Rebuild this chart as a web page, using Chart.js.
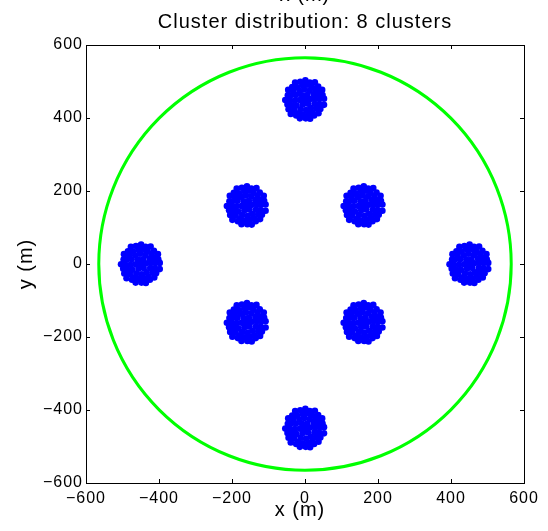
<!DOCTYPE html>
<html>
<head>
<meta charset="utf-8">
<script src="https://cdn.jsdelivr.net/npm/chart.js@4"></script>
<style>
   body { margin: 0; background: #fff; }
</style>
</head>
<body>
<canvas id="canvas" width="548" height="531"></canvas>
<script>
// cluster centres (m)
var clusterX = [0, 160, 450, 160, 0, -160, -450, -160];
var clusterY = [450, 160, 0, -160, -450, -160, 0, 160];

// node offsets inside one cluster (m)
var spreadX = [0, 14, 6, -8, -14, -6, 8,
   28, 24, 13, -2, -15, -25, -28, -23, -12, 3, 16, 26,
   40, 37, 30, 19, 8, -6, -21, -32, -39, -42, -37, -30, -18, -6, 9, 21, 32, 39,
   52, 48, 47, 36, 27, 13, 1, -13, -27, -35, -46, -47, -54, -48, -45, -39, -24, -14, 2, 14, 25, 37, 42, 52];
var spreadY = [0, 2, 13, 12, -1, -13, -11,
   3, 15, 25, 28, 24, 13, -2, -16, -26, -28, -23, -11,
   3, 16, 27, 35, 41, 39, 34, 25, 12, -2, -15, -28, -37, -41, -39, -35, -24, -12,
   3, 13, 27, 36, 48, 47, 53, 49, 47, 35, 27, 12, -1, -13, -26, -39, -43, -51, -51, -52, -43, -37, -25, -14];

// coverage ring
var ringX = 0;
var ringY = 0;
var ringRadius = 565;

// axes
var axisMin = -600;
var axisMax = 600;
var tickStep = 200;

var titleText = 'Cluster distribution: 8 clusters';
var xTitle = 'x (m)';
var yTitle = 'y (m)';

var FONT = '"Liberation Sans", Arial, Helvetica, sans-serif';

var nodes = [];
clusterX.forEach(function (cx, c) {
   spreadX.forEach(function (dx, i) {
      nodes.push({ x: cx + dx, y: clusterY[c] + spreadY[i] });
   });
});

// green coverage circle, placed through the axis scales
var ringPlugin = {
   id: 'ring',
   beforeDatasetsDraw: function (chart) {
      var ctx = chart.ctx;
      var xs = chart.scales.x, ys = chart.scales.y;
      var cx = xs.getPixelForValue(ringX);
      var cy = ys.getPixelForValue(ringY);
      var r = xs.getPixelForValue(ringX + ringRadius) - cx;
      ctx.save();
      ctx.strokeStyle = '#00ff00';
      ctx.lineWidth = 3;
      ctx.beginPath();
      ctx.arc(cx, cy, r, 0, Math.PI * 2);
      ctx.stroke();
      ctx.restore();
   }
};

// box with inward tick marks on all four sides, plus the text
var frame = {
   id: 'frame',
   beforeDraw: function (chart) {
      chart.ctx.letterSpacing = '1px';
   },
   afterDraw: function (chart) {
      var ctx = chart.ctx;
      var a = chart.chartArea;
      var xs = chart.scales.x, ys = chart.scales.y;
      var len = 4;
      ctx.save();
      ctx.strokeStyle = '#000';
      ctx.lineWidth = 1;
      ctx.strokeRect(a.left + 0.5, a.top + 0.5, a.right - a.left, a.bottom - a.top);
      ctx.beginPath();
      xs.ticks.forEach(function (t) {
         var px = Math.round(xs.getPixelForValue(t.value)) + 0.5;
         ctx.moveTo(px, a.bottom); ctx.lineTo(px, a.bottom - len);
         ctx.moveTo(px, a.top); ctx.lineTo(px, a.top + len);
      });
      ys.ticks.forEach(function (t) {
         var py = Math.round(ys.getPixelForValue(t.value)) + 0.5;
         ctx.moveTo(a.left, py); ctx.lineTo(a.left + len, py);
         ctx.moveTo(a.right, py); ctx.lineTo(a.right - len, py);
      });
      ctx.stroke();

      var mid = (a.left + a.right) / 2;
      ctx.fillStyle = '#000';
      ctx.letterSpacing = '1px';
      ctx.font = '20px ' + FONT;
      ctx.textAlign = 'center';
      ctx.textBaseline = 'alphabetic';
      ctx.fillText(xTitle, mid, 1);
      ctx.fillText(titleText, mid, 28);
      ctx.fillText(xTitle, mid - 5, 516);
      ctx.translate(32, (a.top + a.bottom) / 2);
      ctx.rotate(-Math.PI / 2);
      ctx.fillText(yTitle, 0, 0);
      ctx.restore();
   }
};

function axis(fit) {
   return {
      type: 'linear',
      min: axisMin,
      max: axisMax,
      grid: { display: false, drawTicks: false },
      border: { display: false },
      afterFit: fit,
      ticks: {
         stepSize: tickStep,
         color: '#000',
         font: { family: FONT, size: 16 },
         callback: function (v) { return String(v).replace('-', '\u2212'); }
      }
   };
}

window.onload = function () {
   var ctx = document.getElementById('canvas').getContext('2d');
   var xAxis = axis(function (s) { s.height = 48; });
   xAxis.ticks.padding = 6;
   var yAxis = axis(function (s) { s.width = 86; });
   yAxis.ticks.padding = 3;

   window.myScatter = new Chart(ctx, {
      type: 'scatter',
      data: {
         datasets: [{
            label: 'Nodes',
            data: nodes,
            backgroundColor: '#0000ff',
            borderWidth: 0,
            pointRadius: 3.3
         }]
      },
      plugins: [ringPlugin, frame],
      options: {
         responsive: false,
         animation: false,
         events: [],
         layout: { padding: { top: 45, right: 24, bottom: 0, left: 0 } },
         plugins: {
            legend: { display: false },
            tooltip: { enabled: false }
         },
         scales: {
            x: xAxis,
            y: yAxis
         }
      }
   });
};
</script>
</body>
</html>
